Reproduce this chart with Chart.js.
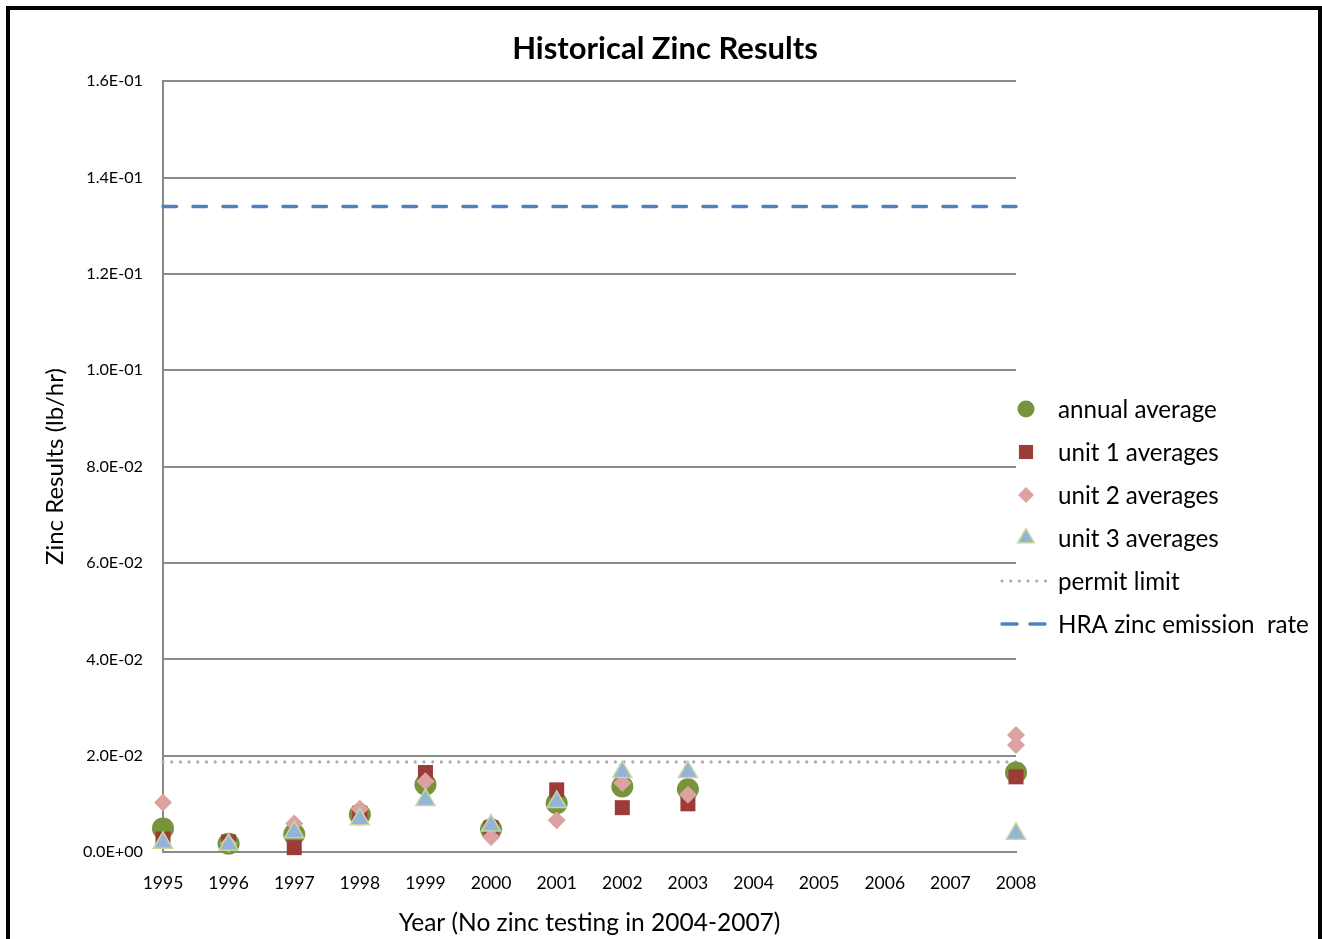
<!DOCTYPE html>
<html>
<head>
<meta charset="utf-8">
<title>Historical Zinc Results</title>
<script src="https://cdn.jsdelivr.net/npm/chart.js@4/dist/chart.umd.min.js"></script>
<style>
  html, body { margin: 0; padding: 0; background: #fff; width: 1322px; height: 939px; overflow: hidden; }
  #c { position: absolute; left: 0; top: 0; }
  #frame { position: absolute; left: 6px; top: 6px; width: 1316px; height: 1000px;
           box-sizing: border-box; border: 4px solid #000; pointer-events: none; }
</style>
</head>
<body>
<canvas id="c" width="1322" height="939"></canvas>
<div id="frame"></div>
<script>
// ---- data (lb/hr) ----
const years = [1995, 1996, 1997, 1998, 1999, 2000, 2001, 2002, 2003, 2008];
const annualAverage = [0.0049, 0.0017, 0.0037, 0.0078, 0.0140, 0.0047, 0.0101, 0.0136, 0.0130, 0.0165];
const unit1Averages = [0.0027, 0.0021, 0.0009, 0.0080, 0.0165, 0.0050, 0.0129, 0.0092, 0.0100, 0.0156];
const unit2Years    = [1995, 1996, 1997, 1998, 1999, 2000, 2001, 2002, 2003, 2008, 2008];
const unit2Averages = [0.0103, 0.0017, 0.0059, 0.0090, 0.0147, 0.0031, 0.0066, 0.0143, 0.0119, 0.0243, 0.0222];
const unit3Averages = [0.0019, 0.0015, 0.0041, 0.0068, 0.0108, 0.0055, 0.0104, 0.0166, 0.0166, 0.0038];
const limitYears = [1995, 2008];
const permitLimit = 0.0187;
const hraEmissionRate = 0.134;

// axis ranges / ticks
const xRange = [1995, 2008];
const yTicks = [0, 0.02, 0.04, 0.06, 0.08, 0.10, 0.12, 0.14, 0.16];

const FONT = "Lato, 'Open Sans', sans-serif";

function toPoints(xs, ys) { return xs.map((x, i) => ({ x: x, y: ys[i] })); }

// 1.6E-01 style labels
function sci(v) {
  if (v === 0) return '0.0E+00';
  const [m, e] = v.toExponential(1).split('e');
  const n = parseInt(e, 10);
  const sign = n < 0 ? '-' : '+';
  return m + 'E' + sign + String(Math.abs(n)).padStart(2, '0');
}

function drawMarker(ctx, style, x, y, r, fill, stroke, bw) {
  ctx.beginPath();
  if (style === 'circle') {
    ctx.arc(x, y, r, 0, Math.PI * 2);
  } else if (style === 'rect') {
    const s = r * Math.SQRT1_2;
    ctx.rect(x - s, y - s, 2 * s, 2 * s);
  } else if (style === 'rectRot') {
    ctx.moveTo(x, y - r); ctx.lineTo(x + r, y); ctx.lineTo(x, y + r); ctx.lineTo(x - r, y);
    ctx.closePath();
  } else if (style === 'triangle') {
    const h = r * 0.866;
    ctx.moveTo(x, y - r); ctx.lineTo(x + h, y + r / 2); ctx.lineTo(x - h, y + r / 2);
    ctx.closePath();
  }
  ctx.fillStyle = fill;
  ctx.fill();
  if (bw) { ctx.lineWidth = bw; ctx.strokeStyle = stroke; ctx.stroke(); }
}

// legend drawn at the right side of the plot
const sideLegend = {
  id: 'sideLegend',
  afterDraw(chart, args, opts) {
    const ctx = chart.ctx;
    ctx.save();
    ctx.font = opts.fontSize + 'px ' + FONT;
    ctx.textBaseline = 'middle';
    ctx.textAlign = 'left';
    chart.data.datasets.forEach((ds, i) => {
      const y = opts.top + i * opts.rowGap;
      const cx = opts.markerX;
      if (ds.showLine) {
        ctx.save();
        ctx.strokeStyle = ds.borderColor;
        ctx.lineWidth = ds.borderWidth;
        ctx.lineCap = ds.borderCapStyle || 'butt';
        ctx.setLineDash(ds.legendDash || ds.borderDash || []);
        ctx.beginPath();
        ctx.moveTo(opts.lineStart, y);
        ctx.lineTo(opts.lineEnd, y);
        ctx.stroke();
        ctx.restore();
      } else {
        drawMarker(ctx, ds.pointStyle, cx, y, ds.legendRadius, ds.backgroundColor, ds.borderColor, ds.borderWidth);
      }
      ctx.fillStyle = '#000';
      ctx.fillText(ds.label, opts.textX, y + 1);
    });
    ctx.restore();
  }
};

const scatterBase = { showLine: false, clip: false, borderWidth: 0 };

new Chart(document.getElementById('c'), {
  type: 'scatter',
  data: {
    datasets: [
      Object.assign({}, scatterBase, {
        label: 'annual average', data: toPoints(years, annualAverage),
        pointStyle: 'circle', pointRadius: 11, pointHoverRadius: 11, legendRadius: 8.5,
        backgroundColor: '#77933c', borderColor: '#77933c', order: 4
      }),
      Object.assign({}, scatterBase, {
        label: 'unit 1 averages', data: toPoints(years, unit1Averages),
        pointStyle: 'rect', pointRadius: 10.6, pointHoverRadius: 10.6, legendRadius: 10,
        backgroundColor: '#9c3b38', borderColor: '#9c3b38', order: 3
      }),
      Object.assign({}, scatterBase, {
        label: 'unit 2 averages', data: toPoints(unit2Years, unit2Averages),
        pointStyle: 'rectRot', pointRadius: 9, pointHoverRadius: 9, legendRadius: 8,
        backgroundColor: '#dba2a1', borderColor: '#dba2a1', order: 2
      }),
      Object.assign({}, scatterBase, {
        label: 'unit 3 averages', data: toPoints(years, unit3Averages),
        pointStyle: 'triangle', pointRadius: 11, pointHoverRadius: 11, legendRadius: 9.5,
        backgroundColor: '#95b3d7', borderColor: '#c5d89e', borderWidth: 1.5, order: 1
      }),
      {
        label: 'permit limit', data: toPoints(limitYears, [permitLimit, permitLimit]),
        showLine: true, clip: false, pointRadius: 0, pointHoverRadius: 0,
        borderColor: '#b3a2c7', backgroundColor: '#b3a2c7', borderWidth: 3.2,
        borderCapStyle: 'round', borderDash: [0, 8.7], order: 5
      },
      {
        label: 'HRA zinc emission  rate', data: toPoints(limitYears, [hraEmissionRate, hraEmissionRate]),
        showLine: true, clip: false, pointRadius: 0, pointHoverRadius: 0,
        borderColor: '#4f81bd', backgroundColor: '#4f81bd', borderWidth: 3.5,
        borderCapStyle: 'round', borderDash: [13.5, 16.5], legendDash: [15, 13], order: 6
      }
    ]
  },
  options: {
    responsive: false,
    animation: false,
    events: [],
    layout: { padding: { left: 8, right: 0, top: 0, bottom: 0 } },
    scales: {
      x: {
        type: 'linear', position: 'bottom',
        min: xRange[0], max: xRange[1],
        afterFit(s) { s.height = 87; },
        grid: { display: false, drawTicks: false },
        border: { display: true, color: '#8a8a8a', width: 2 },
        ticks: {
          stepSize: 1, maxTicksLimit: 20, padding: 21, color: '#000',
          font: { family: FONT, size: 17.5 },
          callback: v => String(v)
        },
        title: {
          display: true, text: 'Year (No zinc testing in 2004-2007)', color: '#000',
          font: { family: FONT, size: 24.5 }, padding: { top: 0, bottom: 1.5 }
        }
      },
      y: {
        type: 'linear', position: 'left',
        min: yTicks[0], max: yTicks[yTicks.length - 1],
        afterFit(s) { s.width = 155; },
        afterBuildTicks(s) { s.ticks = yTicks.map(v => ({ value: v })); },
        grid: { color: '#8a8a8a', lineWidth: 2, drawTicks: false },
        border: { display: true, color: '#8a8a8a', width: 2 },
        ticks: {
          padding: 20, color: '#000',
          font: { family: FONT, size: 16.2 },
          callback: v => sci(v)
        },
        title: {
          display: true, text: 'Zinc Results (lb/hr)', color: '#000',
          font: { family: FONT, size: 24 }, padding: { top: 33, bottom: 0 }
        }
      },
      // reserves the band on the right that holds the legend
      legendBand: {
        type: 'linear', position: 'right', display: true,
        afterFit(s) { s.width = 306; },
        grid: { display: false }, border: { display: false },
        ticks: { display: false }
      }
    },
    plugins: {
      legend: { display: false },
      tooltip: { enabled: false },
      title: {
        display: true, text: 'Historical Zinc Results', color: '#000',
        font: { family: FONT, size: 31, weight: 'bold' },
        padding: { top: 30, bottom: 14 }
      },
      sideLegend: {
        top: 409, rowGap: 43, markerX: 1026, textX: 1058, lineStart: 1002, lineEnd: 1048, fontSize: 24.2
      }
    }
  },
  plugins: [sideLegend]
});
</script>
</body>
</html>
